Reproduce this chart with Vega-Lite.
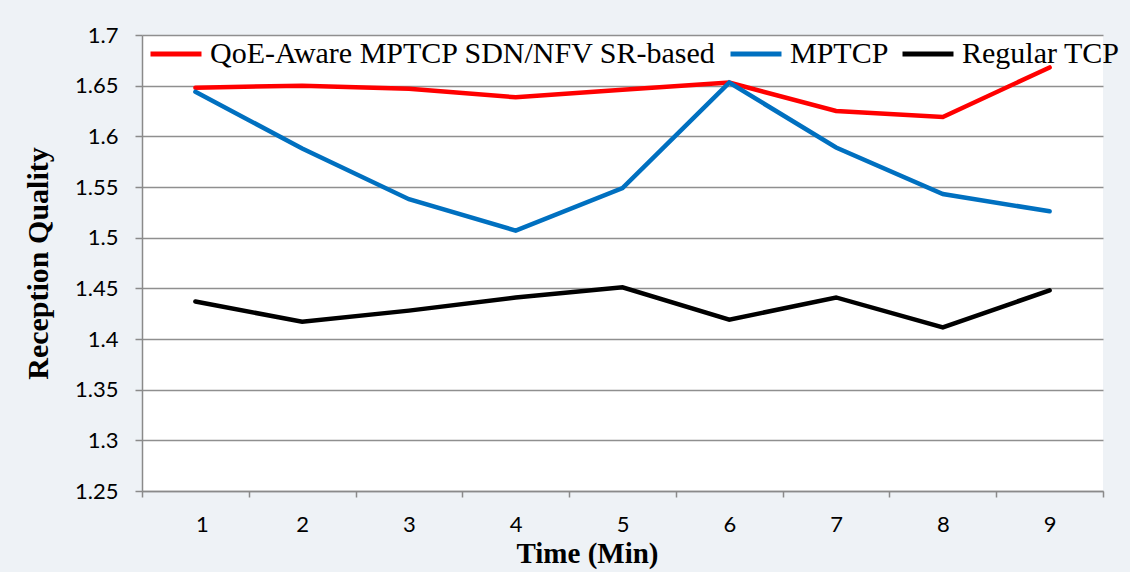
{
  "$schema": "https://vega.github.io/schema/vega-lite/v6.json",
  "width": 961,
  "height": 456,
  "autosize": {"type": "none"},
  "padding": {"left": 142, "top": 35, "right": 27, "bottom": 81},
  "background": "#eef2f6",
  "config": {
    "view": {"stroke": null, "fill": "#ffffff"},
    "axis": {"domainColor": "#8a8a8a", "tickColor": "#8a8a8a", "gridColor": "#8f8f8f", "domainWidth": 1.5, "gridWidth": 1.5, "tickWidth": 1.5}
  },
  "data": {
    "values": [
      {"time": 1, "series": "QoE-Aware MPTCP SDN/NFV SR-based", "value": 1.648},
      {"time": 2, "series": "QoE-Aware MPTCP SDN/NFV SR-based", "value": 1.65},
      {"time": 3, "series": "QoE-Aware MPTCP SDN/NFV SR-based", "value": 1.647},
      {"time": 4, "series": "QoE-Aware MPTCP SDN/NFV SR-based", "value": 1.6385},
      {"time": 5, "series": "QoE-Aware MPTCP SDN/NFV SR-based", "value": 1.646},
      {"time": 6, "series": "QoE-Aware MPTCP SDN/NFV SR-based", "value": 1.653},
      {"time": 7, "series": "QoE-Aware MPTCP SDN/NFV SR-based", "value": 1.625},
      {"time": 8, "series": "QoE-Aware MPTCP SDN/NFV SR-based", "value": 1.619},
      {"time": 9, "series": "QoE-Aware MPTCP SDN/NFV SR-based", "value": 1.668},
      {"time": 1, "series": "MPTCP", "value": 1.644},
      {"time": 2, "series": "MPTCP", "value": 1.588},
      {"time": 3, "series": "MPTCP", "value": 1.538},
      {"time": 4, "series": "MPTCP", "value": 1.507},
      {"time": 5, "series": "MPTCP", "value": 1.549},
      {"time": 6, "series": "MPTCP", "value": 1.653},
      {"time": 7, "series": "MPTCP", "value": 1.589},
      {"time": 8, "series": "MPTCP", "value": 1.543},
      {"time": 9, "series": "MPTCP", "value": 1.526},
      {"time": 1, "series": "Regular TCP", "value": 1.437},
      {"time": 2, "series": "Regular TCP", "value": 1.417},
      {"time": 3, "series": "Regular TCP", "value": 1.428},
      {"time": 4, "series": "Regular TCP", "value": 1.441},
      {"time": 5, "series": "Regular TCP", "value": 1.451},
      {"time": 6, "series": "Regular TCP", "value": 1.419},
      {"time": 7, "series": "Regular TCP", "value": 1.441},
      {"time": 8, "series": "Regular TCP", "value": 1.4115},
      {"time": 9, "series": "Regular TCP", "value": 1.448}
    ]
  },
  "mark": {"type": "line", "strokeWidth": 4.5, "strokeJoin": "miter", "strokeCap": "round"},
  "encoding": {
    "x": {
      "field": "time",
      "type": "quantitative",
      "scale": {"domain": [0.5, 9.5], "nice": false, "zero": false},
      "axis": {
        "title": "Time (Min)",
        "values": [0.5, 1.5, 2.5, 3.5, 4.5, 5.5, 6.5, 7.5, 8.5, 9.5],
        "labelExpr": "datum.value < 9 ? format(datum.value + 0.5, 'd') : ''",
        "labelOffset": 53.4,
        "labelFont": "Lato",
        "labelFontSize": 22,
        "labelColor": "#000000",
        "labelPadding": 17,
        "tickSize": 6,
        "grid": false,
        "titleFont": "Liberation Serif",
        "titleFontSize": 29,
        "titleFontWeight": "bold",
        "titleColor": "#000000",
        "titleX": 445,
        "titlePadding": 4
      }
    },
    "y": {
      "field": "value",
      "type": "quantitative",
      "scale": {"domain": [1.25, 1.7], "nice": false, "zero": false},
      "axis": {
        "title": "Reception Quality",
        "values": [1.25, 1.3, 1.35, 1.4, 1.45, 1.5, 1.55, 1.6, 1.65, 1.7],
        "format": ".2~f",
        "labelFont": "Lato",
        "labelFontSize": 22,
        "labelColor": "#000000",
        "labelPadding": 17,
        "tickSize": 7,
        "grid": true,
        "titleFont": "Liberation Serif",
        "titleFontSize": 30,
        "titleFontWeight": "bold",
        "titleColor": "#000000",
        "titleX": -104,
        "titleBaseline": "middle"
      }
    },
    "color": {
      "field": "series",
      "type": "nominal",
      "scale": {
        "domain": ["QoE-Aware MPTCP SDN/NFV SR-based", "MPTCP", "Regular TCP"],
        "range": ["#ff0000", "#0070c0", "#000000"]
      },
      "legend": {
        "title": null,
        "orient": "none",
        "direction": "horizontal",
        "legendX": 6,
        "legendY": -9,
        "symbolType": "stroke",
        "symbolSize": 2600,
        "symbolStrokeWidth": 5,
        "labelFont": "Liberation Serif",
        "labelFontSize": 30,
        "labelColor": "#000000",
        "labelLimit": 0,
        "labelOffset": 6,
        "columnPadding": 3
      }
    }
  }
}
